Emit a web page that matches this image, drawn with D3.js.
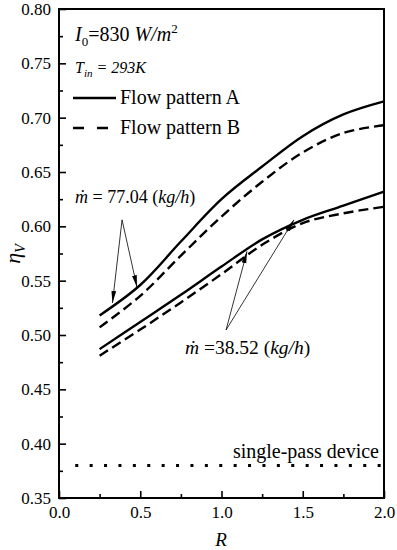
<!DOCTYPE html>
<html>
<head>
<meta charset="utf-8">
<script src="https://cdn.jsdelivr.net/npm/d3@7"></script>
<style>
  body { margin: 0; background: #fff; }
  text { font-family: "Liberation Serif", "Times New Roman", serif; fill: #000; }
</style>
</head>
<body>
<div id="chart"></div>
<script>
// ---------- DATA ----------
var rValues = [0.25, 0.5, 0.75, 1.0, 1.25, 1.5, 1.75, 2.0];
var flowA_77 = [0.518, 0.546, 0.586, 0.625, 0.655, 0.683, 0.703, 0.715];
var flowB_77 = [0.507, 0.536, 0.573, 0.609, 0.641, 0.668, 0.686, 0.693];
var flowA_38 = [0.487, 0.512, 0.537, 0.563, 0.588, 0.606, 0.619, 0.632];
var flowB_38 = [0.481, 0.505, 0.530, 0.556, 0.583, 0.603, 0.612, 0.618];
var singlePass = 0.38;

var xTicks = [0.0, 0.5, 1.0, 1.5, 2.0];
var xMinor = [0.25, 0.75, 1.25, 1.75];
var yTicks = [0.35, 0.40, 0.45, 0.50, 0.55, 0.60, 0.65, 0.70, 0.75, 0.80];
var yMinor = [0.375, 0.425, 0.475, 0.525, 0.575, 0.625, 0.675, 0.725, 0.775];

// annotation arrows: [from R, from eta, to R, to eta]
var arrows77 = [[0.388, 0.606, 0.329, 0.5295], [0.388, 0.606, 0.480, 0.544]];
var arrows38 = [[1.028, 0.5046, 1.157, 0.577], [1.028, 0.5046, 1.446, 0.606]];

// ---------- PAGE ----------
var W = 397, H = 550;
var mLeft = 59, mTop = 9, mRight = 384, mBottom = 498;

var svg = d3.select('#chart').append('svg')
    .attr('width', W)
    .attr('height', H);

var x = d3.scaleLinear().domain([0, 2]).range([mLeft, mRight]);
var y = d3.scaleLinear().domain([0.35, 0.80]).range([mBottom, mTop]);

svg.append('defs').append('marker')
    .attr('id', 'arrowhead')
    .attr('viewBox', '0 0 12 6')
    .attr('refX', 12).attr('refY', 3)
    .attr('markerWidth', 12).attr('markerHeight', 6)
    .attr('markerUnits', 'userSpaceOnUse')
    .attr('orient', 'auto')
  .append('path')
    .attr('d', 'M0,0.6 L12,3 L0,5.4 Z')
    .attr('fill', '#000');

// axes
svg.append('g')
    .attr('transform', 'translate(' + mLeft + ',0)')
    .call(d3.axisLeft(y).tickValues(yTicks).tickFormat(d3.format('.2f'))
        .tickSizeInner(-7).tickSizeOuter(0).tickPadding(8));
svg.append('g')
    .attr('transform', 'translate(' + mLeft + ',0)')
    .call(d3.axisLeft(y).tickValues(yMinor).tickFormat('')
        .tickSizeInner(-4).tickSizeOuter(0));

svg.append('g')
    .attr('transform', 'translate(0,' + mBottom + ')')
    .call(d3.axisBottom(x).tickValues(xTicks).tickFormat(d3.format('.1f'))
        .tickSizeInner(-7).tickSizeOuter(0).tickPadding(8));
svg.append('g')
    .attr('transform', 'translate(0,' + mBottom + ')')
    .call(d3.axisBottom(x).tickValues(xMinor).tickFormat('')
        .tickSizeInner(-4).tickSizeOuter(0));

svg.selectAll('.domain').remove();
svg.selectAll('.tick line').attr('stroke', '#000').attr('stroke-width', 1.6);
svg.selectAll('.tick text')
    .style('font-family', '"Liberation Serif", serif')
    .style('font-size', '17px');

// frame
svg.append('rect')
    .attr('x', mLeft).attr('y', mTop)
    .attr('width', mRight - mLeft).attr('height', mBottom - mTop)
    .attr('fill', 'none')
    .attr('stroke', '#000')
    .attr('stroke-width', 2);

// curves
var line = d3.line()
    .x(function(d){ return x(d[0]); })
    .y(function(d){ return y(d[1]); })
    .curve(d3.curveCatmullRom.alpha(0.5));

function zipR(vals){
    return rValues.map(function(r, i){ return [r, vals[i]]; });
}

var series = [
    {vals: flowA_77, dash: null},
    {vals: flowB_77, dash: '10,5'},
    {vals: flowA_38, dash: null},
    {vals: flowB_38, dash: '10,5'}
];

svg.selectAll('path.curve')
    .data(series)
    .enter()
    .append('path')
        .attr('class', 'curve')
        .attr('d', function(d){ return line(zipR(d.vals)); })
        .attr('fill', 'none')
        .attr('stroke', '#000')
        .attr('stroke-width', 2.4)
        .attr('stroke-dasharray', function(d){ return d.dash; });

// single-pass device
svg.append('line')
    .attr('x1', x(0.1)).attr('x2', x(2.0))
    .attr('y1', y(singlePass)).attr('y2', y(singlePass))
    .attr('stroke', '#000')
    .attr('stroke-width', 3)
    .attr('stroke-dasharray', '3,11.4');

svg.append('text')
    .attr('x', 379).attr('y', 458)
    .attr('text-anchor', 'end')
    .style('font-size', '20px')
    .text('single-pass device');

// arrows
svg.selectAll('line.arrow')
    .data(arrows77.concat(arrows38))
    .enter()
    .append('line')
        .attr('class', 'arrow')
        .attr('x1', function(d){ return x(d[0]); })
        .attr('y1', function(d){ return y(d[1]); })
        .attr('x2', function(d){ return x(d[2]); })
        .attr('y2', function(d){ return y(d[3]); })
        .attr('stroke', '#000')
        .attr('stroke-width', 0.8)
        .attr('marker-end', 'url(#arrowhead)');

// m-dot labels
var t77 = svg.append('text').attr('x', 75).attr('y', 203).style('font-size', '18px');
t77.append('tspan').style('font-style', 'italic').text('ṁ');
t77.append('tspan').text(' = 77.04 (');
t77.append('tspan').style('font-style', 'italic').text('kg/h');
t77.append('tspan').text(')');

var t38 = svg.append('text').attr('x', 185).attr('y', 354).style('font-size', '19.5px');
t38.append('tspan').style('font-style', 'italic').text('ṁ');
t38.append('tspan').text(' =38.52 (');
t38.append('tspan').style('font-style', 'italic').text('kg/h');
t38.append('tspan').text(')');

// conditions
var tI = svg.append('text').attr('x', 75).attr('y', 41).style('font-size', '20px');
tI.append('tspan').style('font-style', 'italic').text('I');
tI.append('tspan').attr('dy', 5).style('font-size', '13px').text('0');
tI.append('tspan').attr('dy', -5).text('=830 ');
tI.append('tspan').style('font-style', 'italic').text('W/m');
tI.append('tspan').attr('dy', -8).style('font-size', '13px').text('2');

var tT = svg.append('text').attr('x', 75).attr('y', 73).style('font-size', '16px').style('font-style', 'italic');
tT.append('tspan').text('T');
tT.append('tspan').attr('dy', 4).style('font-size', '11px').text('in');
tT.append('tspan').attr('dy', -4).text(' = 293K');

// legend
var legend = [
    {label: 'Flow pattern A', dash: null, y: 98},
    {label: 'Flow pattern B', dash: '11,13', y: 128}
];
legend.forEach(function(l){
    svg.append('line')
        .attr('x1', 73).attr('x2', 116)
        .attr('y1', l.y).attr('y2', l.y)
        .attr('stroke', '#000')
        .attr('stroke-width', 2.4)
        .attr('stroke-dasharray', l.dash);
    svg.append('text')
        .attr('x', 120).attr('y', l.y + 6)
        .style('font-size', '20px')
        .text(l.label);
});

// axis titles
svg.append('text')
    .attr('x', 221).attr('y', 546)
    .attr('text-anchor', 'middle')
    .style('font-size', '19px')
    .style('font-style', 'italic')
    .text('R');

var yl = svg.append('text')
    .attr('transform', 'translate(20,254) rotate(-90)')
    .attr('text-anchor', 'middle')
    .style('font-size', '22px')
    .style('font-style', 'italic');
yl.append('tspan').text('η');
yl.append('tspan').attr('dy', 5).style('font-size', '14px').text('V');
</script>
</body>
</html>
